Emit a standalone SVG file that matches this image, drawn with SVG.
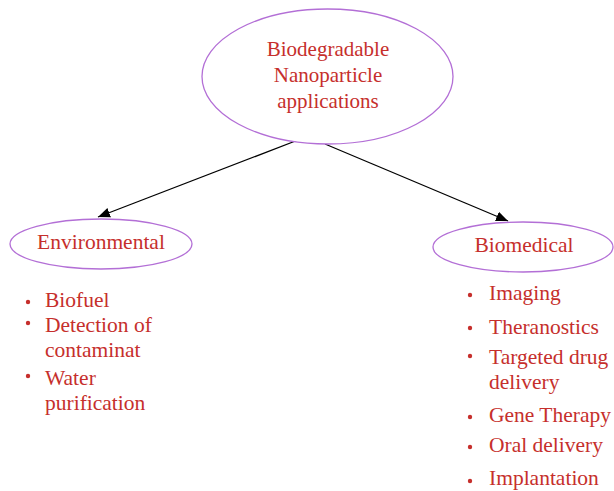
<svg xmlns="http://www.w3.org/2000/svg" width="614" height="491" viewBox="0 0 614 491">
  <style>
    .node { fill: #ffffff; stroke: #b36fd6; stroke-width: 1.3; }
    .label { font-family: "Liberation Serif", "DejaVu Serif", serif; font-size: 21.5px; fill: #c62f2c; }
    .title { font-size: 21px; }
    .mid { text-anchor: middle; }
    .bullet { fill: #c62f2c; }
    .edge { stroke: #000000; stroke-width: 1.3; fill: none; marker-end: url(#arrow); }
  </style>
  <defs>
    <marker id="arrow" viewBox="0 0 12 10" refX="12" refY="5" markerWidth="12" markerHeight="10" markerUnits="userSpaceOnUse" orient="auto">
      <path d="M0,0 L12,5 L0,10 z" fill="#000000"/>
    </marker>
  </defs>
  <rect width="614" height="491" fill="#ffffff"/>

  <g id="connectors">
    <line class="edge" x1="298" y1="140" x2="98" y2="217"/>
    <line class="edge" x1="325" y1="144" x2="508" y2="221"/>
  </g>

  <g id="root">
    <ellipse class="node" cx="327.5" cy="76.5" rx="125.5" ry="67.5"/>
    <text class="label title mid" x="328" y="56">Biodegradable</text>
    <text class="label title mid" x="328" y="82">Nanoparticle</text>
    <text class="label title mid" x="328" y="108">applications</text>
  </g>

  <g id="environmental">
    <ellipse class="node" cx="101" cy="244" rx="91" ry="25"/>
    <text class="label mid" x="101" y="249">Environmental</text>
  </g>

  <g id="environmental-list">
    <circle class="bullet" cx="28" cy="302" r="2.2"/>
    <text class="label" x="45" y="307">Biofuel</text>
    <circle class="bullet" cx="28" cy="323" r="2.2"/>
    <text class="label" x="45" y="332">Detection of</text>
    <text class="label" x="45" y="357">contaminat</text>
    <circle class="bullet" cx="28" cy="376" r="2.2"/>
    <text class="label" x="45" y="385">Water</text>
    <text class="label" x="45" y="410">purification</text>
  </g>

  <g id="biomedical">
    <ellipse class="node" cx="523" cy="247" rx="90" ry="25"/>
    <text class="label mid" x="524" y="252">Biomedical</text>
  </g>

  <g id="biomedical-list">
    <circle class="bullet" cx="470" cy="295" r="2.2"/>
    <text class="label" x="489" y="300">Imaging</text>
    <circle class="bullet" cx="470" cy="328" r="2.2"/>
    <text class="label" x="489" y="334">Theranostics</text>
    <circle class="bullet" cx="470" cy="356" r="2.2"/>
    <text class="label" x="489" y="364">Targeted drug</text>
    <text class="label" x="489" y="389">delivery</text>
    <circle class="bullet" cx="470" cy="417" r="2.2"/>
    <text class="label" x="489" y="422">Gene Therapy</text>
    <circle class="bullet" cx="470" cy="447" r="2.2"/>
    <text class="label" x="489" y="452">Oral delivery</text>
    <circle class="bullet" cx="470" cy="481" r="2.2"/>
    <text class="label" x="489" y="485">Implantation</text>
  </g>
</svg>
